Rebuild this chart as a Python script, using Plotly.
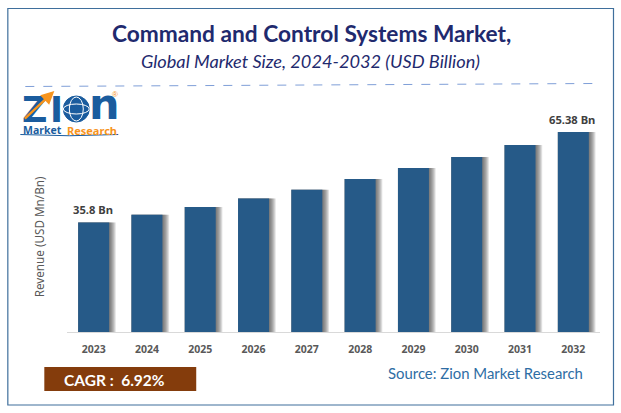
import plotly.graph_objects as go

years = ["2023", "2024", "2025", "2026", "2027", "2028", "2029", "2030", "2031", "2032"]
revenue = [35.8, 38.3, 40.9, 43.6, 46.5, 50.0, 53.6, 57.2, 61.1, 65.38]
bar_labels = {"2023": "35.8 Bn", "2032": "65.38 Bn"}

W, H = 621, 413
LEFT, RIGHT, TOP, BOTTOM = 66.7, 21, 100, 81
BAR_BLUE = "#265a88"
NAVY = "#1f2a6e"
GREY = "#595959"
LOGO_BLUE = "#1a5c9e"
LOGO_ORANGE = "#f7941d"


# positions of the decoration are measured in pixels of the page
def px_x(x):
    return (x - LEFT) / (W - LEFT - RIGHT)


def px_y(y):
    return 1 - (y - TOP) / (H - TOP - BOTTOM)


def text_at(x, y, text, size, color, family="Lato", angle=0):
    fig.add_annotation(
        x=px_x(x), y=px_y(y), xref="paper", yref="paper",
        text=text, showarrow=False, textangle=angle,
        xanchor="center", yanchor="middle",
        font=dict(family=family, size=size, color=color),
    )


def box(x0, y0, x1, y1, **kw):
    fig.add_shape(
        type=kw.pop("kind", "rect"), xref="paper", yref="paper",
        x0=px_x(x0), y0=px_y(y0), x1=px_x(x1), y1=px_y(y1), **kw
    )


fig = go.Figure()

# soft shadow right of each bar, a stack of faint wider bars
for k in range(7, 0, -1):
    width = 31 + k * 0.95
    fig.add_trace(
        go.Bar(
            x=years, y=revenue, width=width / 53.33, offset=-15.5 / 53.33,
            marker=dict(color="rgba(70,70,70,0.15)", line_width=0),
            hoverinfo="skip", showlegend=False,
        )
    )

fig.add_trace(
    go.Bar(
        x=years, y=revenue, width=31 / 53.33, offset=-15.5 / 53.33,
        marker=dict(color=BAR_BLUE, line_width=0), showlegend=False,
    )
)

fig.update_layout(
    width=W, height=H, barmode="overlay",
    paper_bgcolor="white", plot_bgcolor="white",
    margin=dict(l=LEFT, r=RIGHT, t=TOP, b=BOTTOM, autoexpand=False),
    font=dict(family="Noto Sans"),
)
fig.update_xaxes(
    type="category", range=[-0.5, 9.5], showgrid=False,
    showline=True, linecolor="#d9d9d9", linewidth=1,
    ticks="outside", ticklen=7, tickcolor="rgba(0,0,0,0)",
    tickfont=dict(family="Noto Sans", size=10.5, color=GREY, weight="bold"),
)
fig.update_yaxes(range=[0, 75.84], visible=False)

for year, label in bar_labels.items():
    i = years.index(year)
    fig.add_annotation(
        x=i, y=revenue[i], text=label, showarrow=False,
        xshift=-1, yshift=12.5, yanchor="middle",
        font=dict(family="Noto Sans", size=11.2, color="#404040", weight="bold"),
    )

# frame and header
box(7.5, 8.5, 613.5, 405, line=dict(color="#3f6f9c", width=1.2), fillcolor="rgba(0,0,0,0)")
fig.add_shape(
    type="line", xref="paper", yref="paper",
    x0=px_x(25), y0=px_y(86.5), x1=px_x(594), y1=px_y(83.5),
    line=dict(color="#7f9fd8", width=1, dash="dash"),
)
text_at(311, 34, "<b>Command and Control Systems Market,</b>", 22.7, NAVY)
text_at(310.5, 61, "<i>Global Market Size, 2024-2032 (USD Billion)</i>", 18.2, NAVY)
text_at(39, 237, "Revenue (USD Mn/Bn)", 11.7, GREY, family="Noto Sans", angle=-90)

# logo
text_at(34.5, 109.5, "<b>Z</b>", 35, LOGO_BLUE, family="DejaVu Sans")
text_at(56, 109.5, "<b>I</b>", 35, LOGO_BLUE, family="DejaVu Sans")
text_at(104.5, 104, "<b>n</b>", 43, LOGO_BLUE, family="DejaVu Sans")
box(63, 96, 89, 122, kind="circle", fillcolor=LOGO_BLUE, line=dict(color=LOGO_BLUE, width=1))
box(69, 97, 83, 121, kind="circle", fillcolor="rgba(0,0,0,0)", line=dict(color="white", width=1))
box(63, 104, 89, 114, kind="circle", fillcolor="rgba(0,0,0,0)", line=dict(color="white", width=1))
fig.add_annotation(
    x=px_x(54), y=px_y(91), xref="paper", yref="paper", text="",
    ax=-31, ay=29,
    showarrow=True, arrowhead=2, arrowsize=1.1, arrowwidth=2.4, arrowcolor=LOGO_ORANGE,
)
text_at(115, 94.5, "®", 8, LOGO_ORANGE, family="Liberation Sans")
text_at(42, 130, "<b>Market</b>", 10.5, LOGO_BLUE, family="Noto Sans")
text_at(91.5, 130, "<b>Research</b>", 11, LOGO_ORANGE, family="Noto Sans")
fig.add_shape(
    type="path", xref="paper", yref="paper",
    path=f"M {px_x(20)} {px_y(134.5)} Q {px_x(69)} {px_y(137)} {px_x(118)} {px_y(134.5)}",
    line=dict(color=LOGO_BLUE, width=1),
)

# footer
box(44, 367, 196, 391, fillcolor="#843c0c", line_width=0)
text_at(114, 380, "<b>CAGR :  6.92%</b>", 15.5, "white")
text_at(485, 373, "Source: Zion Market Research", 14.9, "#2e6da4")

fig.write_html(
    "out.html",
    config={"displayModeBar": False},
    post_script="document.body.style.margin='0';document.body.style.overflow='hidden';",
)
